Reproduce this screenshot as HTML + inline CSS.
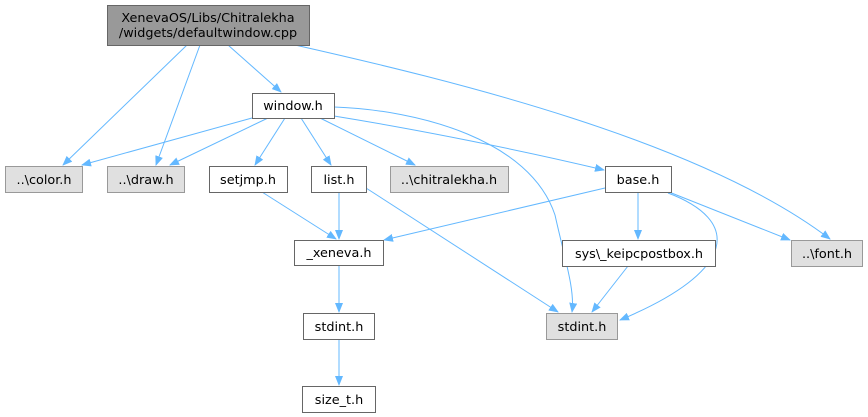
<!DOCTYPE html>
<html><head><meta charset="utf-8"><style>
body{margin:0;background:#fff}
svg{display:block}
text{font-family:"DejaVu Sans","Liberation Sans",sans-serif;font-size:12.8px;fill:#000}
</style></head><body>
<svg width="868" height="417" viewBox="0 0 868 417">
<defs><marker id="a" markerWidth="10" markerHeight="8" refX="9" refY="4" orient="auto" markerUnits="userSpaceOnUse"><path d="M0,0 L10,4 L0,8 z" fill="#63b8ff"/></marker></defs>
<g fill="none" stroke="#63b8ff" stroke-width="1" marker-end="url(#a)">
<path d="M187,45 L63,165"/>
<path d="M200,45 L156,165"/>
<path d="M228,45 L281,92"/>
<path d="M295,45 C450,80 700,140 830,239"/>
<path d="M252,118 L82,165"/>
<path d="M268,118 L170,165"/>
<path d="M285,118 L255,165"/>
<path d="M301,118 L331,165"/>
<path d="M320,118 L415,165"/>
<path d="M334,107 C420,110 530,140 555,215 C565,260 575,290 572,312"/>
<path d="M334,116 C420,130 520,150 604,170"/>
<path d="M605,188 L384,240"/>
<path d="M638,192 L638,239"/>
<path d="M669,192 L790,240"/>
<path d="M668,193 C740,220 740,270 620,320"/>
<path d="M262,192 L336,239"/>
<path d="M339,192 L339,239"/>
<path d="M366,188 L558,312"/>
<path d="M628,266 L592,312"/>
<path d="M339,266 L339,312"/>
<path d="M339,339 L339,385"/>
</g>
<g stroke-width="1">
<rect x="107.5" y="5.5" width="202" height="40" fill="#999" stroke="#666"/>
<rect x="252.5" y="93.5" width="82" height="25" fill="#fff" stroke="#666"/>
<rect x="5.5" y="166.5" width="77" height="26" fill="#e0e0e0" stroke="#999"/>
<rect x="107.5" y="166.5" width="77" height="26" fill="#e0e0e0" stroke="#999"/>
<rect x="209.5" y="166.5" width="78" height="26" fill="#fff" stroke="#666"/>
<rect x="311.5" y="166.5" width="55" height="26" fill="#fff" stroke="#666"/>
<rect x="390.5" y="166.5" width="118" height="26" fill="#e0e0e0" stroke="#999"/>
<rect x="605.5" y="166.5" width="66" height="26" fill="#fff" stroke="#666"/>
<rect x="294.5" y="240.5" width="89" height="25" fill="#fff" stroke="#666"/>
<rect x="562.5" y="240.5" width="153" height="26" fill="#fff" stroke="#666"/>
<rect x="791.5" y="240.5" width="71" height="26" fill="#e0e0e0" stroke="#999"/>
<rect x="546.5" y="313.5" width="71" height="26" fill="#e0e0e0" stroke="#999"/>
<rect x="303.5" y="313.5" width="71" height="26" fill="#fff" stroke="#666"/>
<rect x="302.5" y="386.5" width="73" height="26" fill="#fff" stroke="#666"/>
</g>
<g text-anchor="middle">
<text x="208" y="22">XenevaOS/Libs/Chitralekha</text>
<text x="208" y="37">/widgets/defaultwindow.cpp</text>
<text x="293" y="110">window.h</text>
<text x="44" y="184">..\color.h</text>
<text x="146" y="184">..\draw.h</text>
<text x="248" y="184">setjmp.h</text>
<text x="339" y="184">list.h</text>
<text x="449" y="184">..\chitralekha.h</text>
<text x="638" y="184">base.h</text>
<text x="339" y="257">_xeneva.h</text>
<text x="639" y="258">sys\_keipcpostbox.h</text>
<text x="827" y="258">..\font.h</text>
<text x="582" y="331">stdint.h</text>
<text x="339" y="331">stdint.h</text>
<text x="339" y="404">size_t.h</text>
</g>
</svg>
</body></html>
